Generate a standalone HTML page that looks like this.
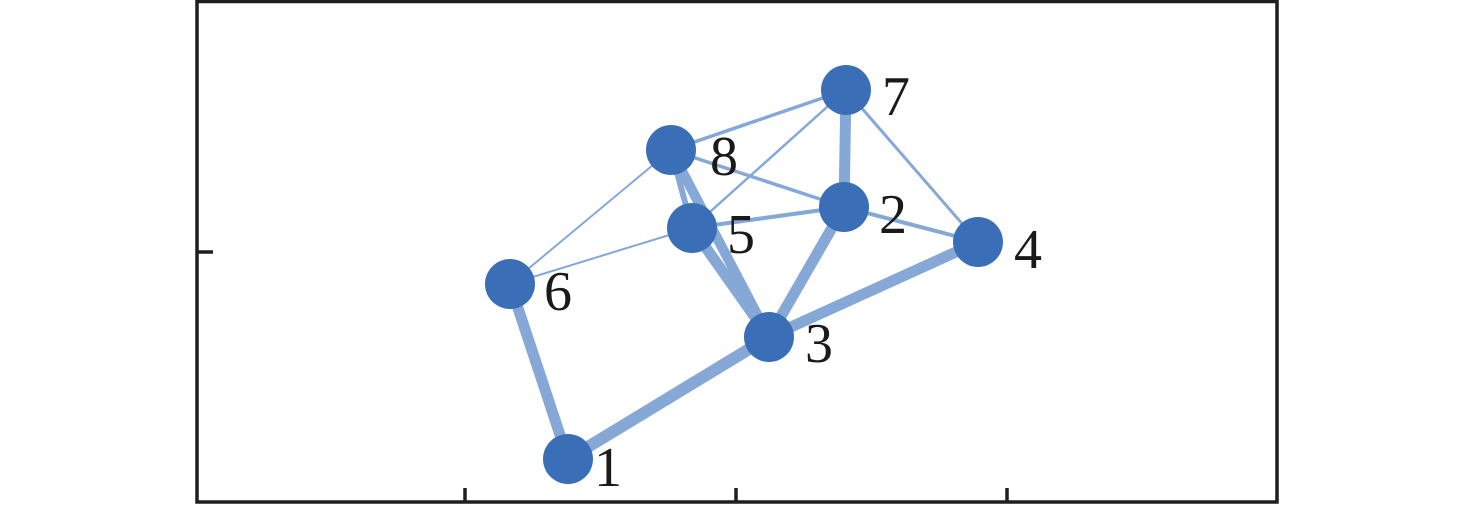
<!DOCTYPE html>
<html><head><style>html,body{margin:0;padding:0;background:#fff;}</style></head>
<body>
<svg width="1476" height="506" viewBox="0 0 1476 506" xmlns="http://www.w3.org/2000/svg">
<rect x="0" y="0" width="1476" height="506" fill="#fff"/>
<g stroke="#1e1e1e" stroke-width="3.5" fill="none">
<rect x="197" y="1.5" width="1080" height="500.5"/>
<line x1="197" y1="252" x2="213" y2="252"/>
<line x1="465" y1="502" x2="465" y2="488"/>
<line x1="736" y1="502" x2="736" y2="488"/>
<line x1="1007" y1="502" x2="1007" y2="488"/>
</g>
<g stroke="#86a8d6" stroke-linecap="butt">
<line x1="568" y1="459" x2="510" y2="284" stroke-width="11"/>
<line x1="568" y1="459" x2="769" y2="337" stroke-width="12"/>
<line x1="769" y1="337" x2="978" y2="242" stroke-width="11"/>
<line x1="769" y1="337" x2="844" y2="207" stroke-width="11"/>
<line x1="769" y1="337" x2="671" y2="150" stroke-width="10"/>
<line x1="769" y1="337" x2="692" y2="228" stroke-width="11"/>
<line x1="671" y1="150" x2="692" y2="228" stroke-width="6"/>
<line x1="844" y1="207" x2="846" y2="90" stroke-width="11"/>
<line x1="671" y1="150" x2="846" y2="90" stroke-width="3.5"/>
<line x1="671" y1="150" x2="844" y2="207" stroke-width="3.5"/>
<line x1="671" y1="150" x2="510" y2="284" stroke-width="2"/>
<line x1="692" y1="228" x2="510" y2="284" stroke-width="2"/>
<line x1="692" y1="228" x2="844" y2="207" stroke-width="4"/>
<line x1="692" y1="228" x2="846" y2="90" stroke-width="2.5"/>
<line x1="846" y1="90" x2="978" y2="242" stroke-width="3"/>
<line x1="844" y1="207" x2="978" y2="242" stroke-width="4"/>
</g>
<g fill="#3a6fb8">
<circle cx="568" cy="459" r="25"/>
<circle cx="844" cy="207" r="25"/>
<circle cx="769" cy="337" r="25"/>
<circle cx="978" cy="242" r="25"/>
<circle cx="692" cy="228" r="25"/>
<circle cx="510" cy="284" r="25"/>
<circle cx="846" cy="90" r="25"/>
<circle cx="671" cy="150" r="25"/>
</g>
<g font-family="'Liberation Serif', serif" font-size="56" fill="#1a1a1a">
<text x="594" y="486">1</text>
<text x="879" y="233">2</text>
<text x="805" y="362">3</text>
<text x="1014" y="268">4</text>
<text x="727" y="253">5</text>
<text x="544" y="310">6</text>
<text x="882" y="115">7</text>
<text x="710" y="175">8</text>
</g>
</svg>
</body></html>
